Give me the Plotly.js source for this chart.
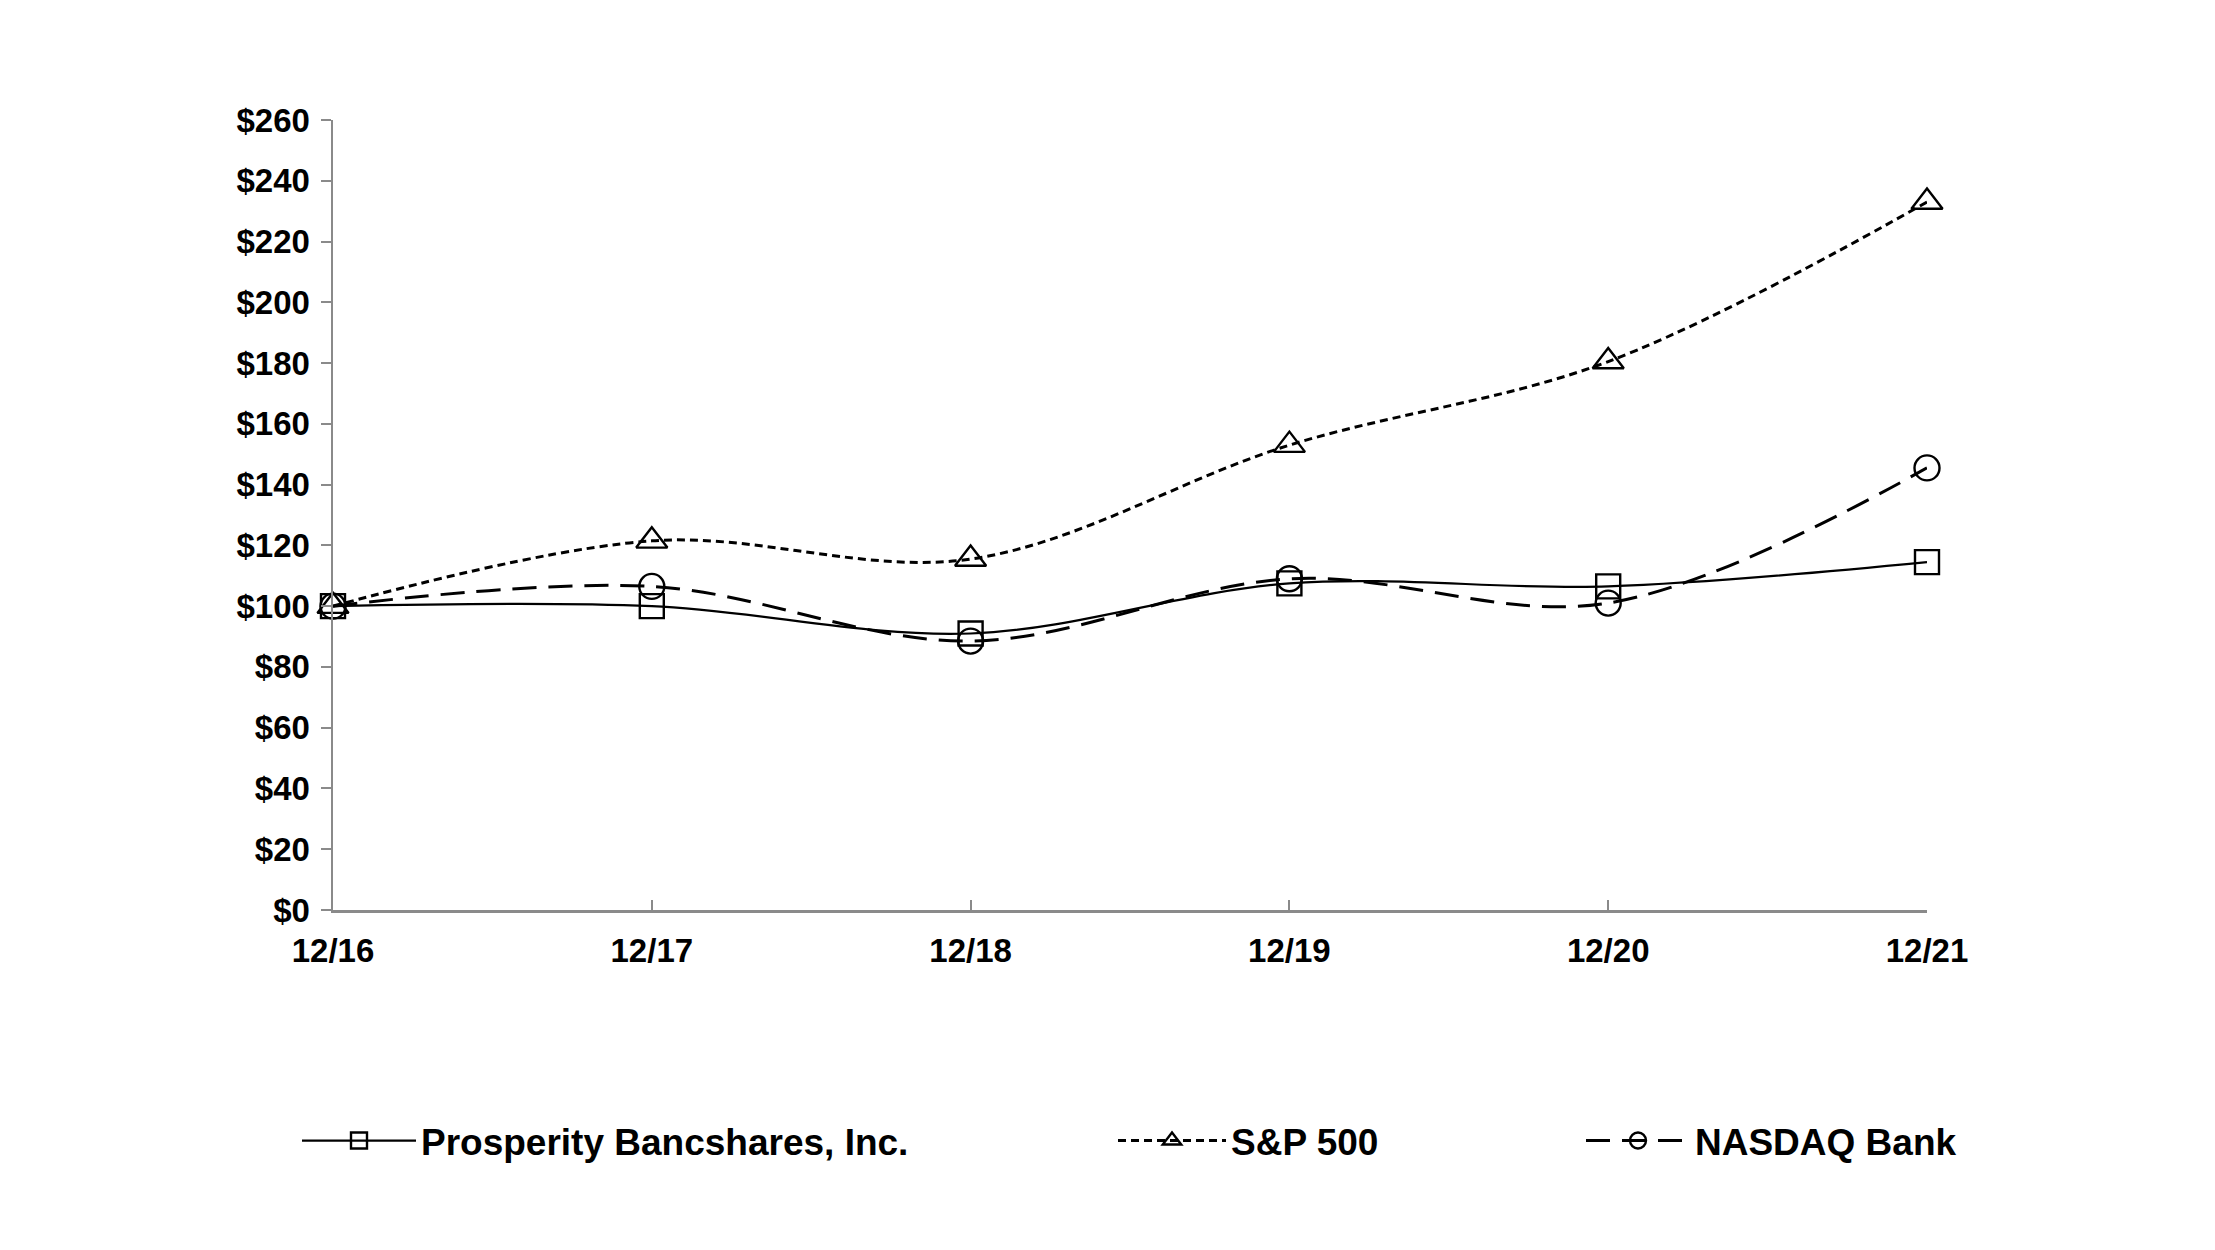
<!DOCTYPE html>
<html>
<head>
<meta charset="utf-8">
<script src="https://cdn.plot.ly/plotly-3.0.1.min.js"></script>
<style>html,body{margin:0;padding:0;background:#fff;}#chart{width:2215px;height:1250px;}</style>
</head>
<body>
<div id="chart"></div>
<script>
const categories = ["12/16", "12/17", "12/18", "12/19", "12/20", "12/21"];
const prosperity = [100, 100, 91, 107.5, 106.5, 114.5];
const sp500 = [100, 121.5, 115.5, 153, 180.5, 233];
const nasdaqBank = [100, 106.5, 88.5, 109, 101, 145.5];
const seriesNames = ["Prosperity Bancshares, Inc.", "S&P 500", "NASDAQ Bank"];
const yTickVals = [0, 20, 40, 60, 80, 100, 120, 140, 160, 180, 200, 220, 240, 260];
const yTickLabels = ["$0", "$20", "$40", "$60", "$80", "$100", "$120", "$140", "$160", "$180", "$200", "$220", "$240", "$260"];

const fontFam = '"Liberation Sans", Arial, sans-serif';
const idx = categories.map((c, i) => i);

const traces = [
  {
    x: idx, y: prosperity, name: seriesNames[0], type: 'scatter', mode: 'lines+markers',
    line: {color: '#000', width: 2.2, shape: 'spline', smoothing: 1},
    marker: {symbol: 'square-open', size: 24, color: '#000', line: {width: 2.4, color: '#000'}},
    cliponaxis: false, legend: 'legend'
  },
  {
    x: idx, y: sp500, name: seriesNames[1], type: 'scatter', mode: 'lines+markers',
    line: {color: '#000', width: 3, shape: 'spline', smoothing: 1, dash: '8px,5px'},
    marker: {symbol: 'triangle-up-open', size: 27, color: '#000', line: {width: 2.4, color: '#000'}},
    cliponaxis: false, legend: 'legend2'
  },
  {
    x: idx, y: nasdaqBank, name: seriesNames[2], type: 'scatter', mode: 'lines+markers',
    line: {color: '#000', width: 3, shape: 'spline', smoothing: 1, dash: '24px,12px'},
    marker: {symbol: 'circle-open', size: 25, color: '#000', line: {width: 2.4, color: '#000'}},
    cliponaxis: false, legend: 'legend3'
  }
];

const legBase = {
  orientation: 'h', xref: 'container', yref: 'container', yanchor: 'middle', xanchor: 'left',
  font: {family: fontFam, size: 37, color: '#000', weight: 'bold'},
  bgcolor: 'rgba(0,0,0,0)', itemwidth: 108, borderwidth: 0
};
const legY = 1 - 1141 / 1250;

const layout = {
  width: 2215, height: 1250,
  paper_bgcolor: '#fff', plot_bgcolor: '#fff',
  margin: {l: 333, r: 288, t: 120, b: 340},
  showlegend: true,
  font: {family: fontFam, color: '#000'},
  xaxis: {
    type: 'linear', range: [0, 5], tickmode: 'array', tickvals: idx, ticktext: categories,
    showgrid: false, zeroline: false, showline: true, linecolor: '#8a8a8a', linewidth: 2.5,
    ticks: 'inside', ticklen: 10, tickwidth: 2, tickcolor: '#8a8a8a',
    tickfont: {family: fontFam, size: 33, color: '#000', weight: 'bold'},
    ticklabelstandoff: 10
  },
  yaxis: {
    range: [0, 260], tickmode: 'array', tickvals: yTickVals, ticktext: yTickLabels,
    showgrid: false, zeroline: false, showline: true,
    linecolor: '#8a8a8a', linewidth: 2.5,
    ticks: 'outside', ticklen: 10, tickwidth: 2, tickcolor: '#8a8a8a',
    tickfont: {family: fontFam, size: 33, color: '#000', weight: 'bold'},
    ticklabelstandoff: 4
  },
  legend: Object.assign({}, legBase, {x: 297 / 2215, y: legY, itemwidth: 114}),
  legend2: Object.assign({}, legBase, {x: 1113 / 2215, y: legY}),
  legend3: Object.assign({}, legBase, {x: 1581 / 2215, y: legY, itemwidth: 104})
};

Plotly.newPlot('chart', traces, layout, {displayModeBar: false, staticPlot: true});
</script>
</body>
</html>
